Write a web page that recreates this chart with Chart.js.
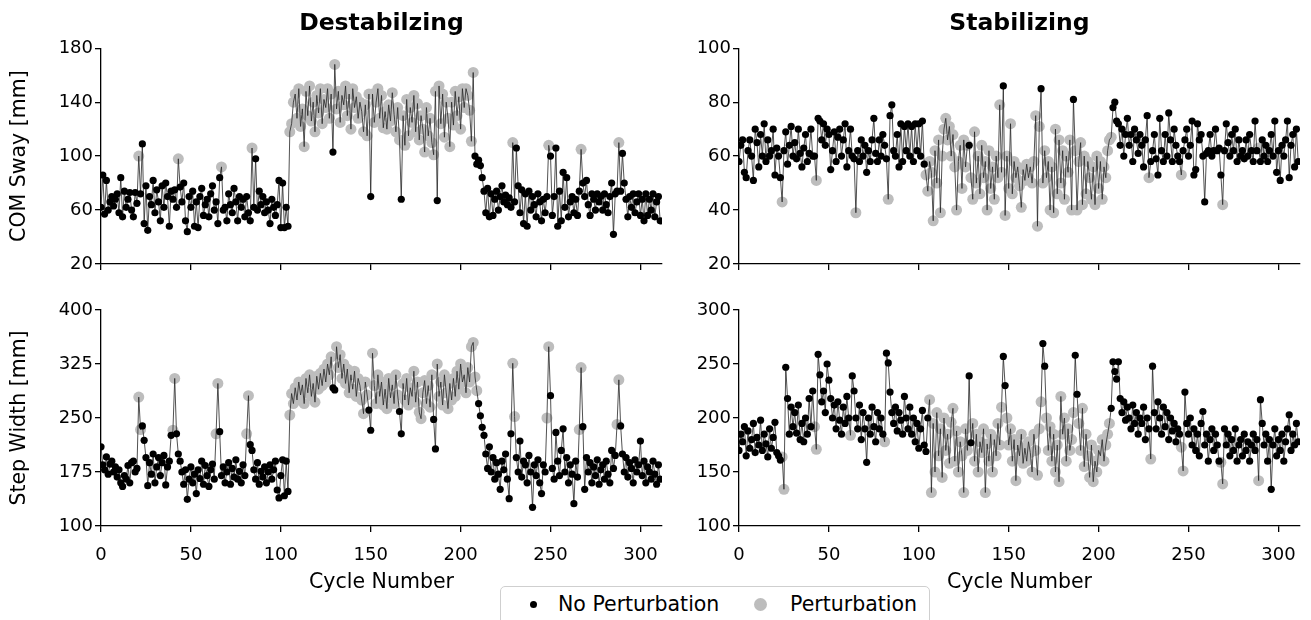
<!DOCTYPE html>
<html>
<head>
<meta charset="utf-8">
<script src="https://cdn.jsdelivr.net/npm/chart.js@4.4.0/dist/chart.umd.min.js"></script>
<style>
  body { margin: 0; background: #fff; width: 1311px; height: 620px; overflow: hidden; position: relative; font-family: 'DejaVu Sans', sans-serif; }
  canvas { position: absolute; }
  #legend { position: absolute; left: 500px; top: 586px; width: 430px; height: 50px; border: 1px solid #cfcfcf; border-radius: 5px; background: #fff; box-sizing: border-box; }
  #legend .dot { position: absolute; border-radius: 50%; }
  #legend .lbl { position: absolute; font-size: 20.5px; color: #000; line-height: 24px; white-space: nowrap; }
</style>
</head>
<body>
<canvas id="comDestab" width="690" height="290" style="left:0;top:0"></canvas>
<canvas id="comStab" width="621" height="290" style="left:690px;top:0"></canvas>
<canvas id="stepDestab" width="690" height="330" style="left:0;top:290px"></canvas>
<canvas id="stepStab" width="621" height="330" style="left:690px;top:290px"></canvas>
<div id="legend">
  <span class="dot" style="left:29px;top:14px;width:7px;height:7px;background:#000"></span>
  <span class="lbl" style="left:57px;top:5px">No Perturbation</span>
  <span class="dot" style="left:253px;top:11px;width:13px;height:13px;background:#bdbdbd"></span>
  <span class="lbl" style="left:289px;top:5px">Perturbation</span>
</div>
<script>
// COM sway, destabilizing condition (cycles 0..311)
const comDestab = [
  62, 86, 57, 82, 60, 66, 70, 63, 68, 72,
  58, 84, 55, 74, 62, 68, 73, 60, 55, 73,
  65, 100, 72, 109, 50, 78, 45, 70, 64, 82,
  58, 75, 66, 52, 78, 62, 80, 70, 48, 74,
  68, 75, 62, 98, 77, 66, 80, 52, 44, 70,
  62, 74, 48, 66, 47, 70, 76, 56, 64, 68,
  55, 72, 78, 60, 66, 50, 84, 92, 60, 62,
  52, 72, 64, 58, 76, 66, 52, 70, 62, 68,
  55, 70, 58, 52, 106, 62, 98, 60, 74, 64,
  70, 58, 66, 60, 50, 68, 62, 56, 64, 82,
  47, 80, 47, 62, 48, 118, 124, 140, 146, 128,
  150, 122, 135, 107, 148, 130, 152, 126, 140, 118,
  145, 132, 150, 124, 142, 136, 150, 128, 146, 103,
  168, 135, 148, 125, 145, 138, 152, 130, 146, 120,
  150, 136, 144, 128, 140, 133, 118, 138, 115, 146,
  70, 146, 125, 140, 150, 128, 145, 121, 133, 120,
  138, 126, 147, 131, 118, 136, 112, 68, 130, 108,
  142, 115, 136, 125, 145, 118, 139, 112, 130, 120,
  103, 136, 115, 128, 110, 101, 148, 67, 152, 124,
  146, 114, 140, 128, 107, 140, 123, 148, 130, 144,
  120, 150, 136, 150, 145, 134, 111, 162, 100, 94,
  97, 93, 84, 74, 58, 76, 55, 72, 56, 68,
  74, 60, 70, 78, 66, 71, 64, 69, 62, 110,
  66, 106, 78, 58, 75, 50, 72, 48, 74, 60,
  70, 64, 55, 72, 66, 52, 68, 58, 70, 108,
  100, 56, 70, 106, 48, 74, 52, 88, 62, 84,
  55, 66, 70, 58, 68, 56, 74, 105, 80, 70,
  82, 64, 56, 72, 68, 60, 72, 66, 70, 60,
  72, 64, 58, 70, 80, 42, 72, 74, 110, 74,
  102, 80, 68, 55, 70, 62, 72, 58, 66, 72,
  56, 68, 52, 72, 56, 68, 60, 72, 55, 66,
  70, 52
];
const comDestabPert = [[21,21],[43,43],[67,67],[84,84],[105,128],[130,149],[151,166],[168,186],[188,207],[229,229],[249,249],[267,267],[288,288]];

// COM sway, stabilizing condition
const comStab = [
  58, 64, 66, 54, 52, 62, 66, 60, 51, 70,
  65, 56, 68, 60, 72, 58, 66, 60, 62, 70,
  53, 63, 60, 52, 43, 62, 69, 57, 64, 71,
  60, 65, 59, 70, 61, 56, 63, 68, 58, 61,
  70, 60, 60, 51, 74, 73, 66, 72, 64, 70,
  68, 55, 62, 69, 58, 67, 70, 60, 66, 72,
  56, 62, 70, 60, 59, 39, 62, 58, 66, 60,
  64, 54, 62, 58, 66, 74, 61, 58, 66, 60,
  68, 64, 59, 44, 75, 79, 62, 60, 68, 56,
  72, 58, 71, 62, 72, 60, 71, 58, 72, 62,
  72, 60, 73, 57, 53, 47, 58, 54, 36, 62,
  50, 66, 39, 60, 70, 74, 66, 71, 60, 68,
  56, 40, 58, 64, 48, 66, 56, 64, 64, 52,
  44, 69, 50, 60, 46, 64, 52, 58, 40, 62,
  48, 56, 44, 60, 52, 79, 54, 86, 38, 60,
  48, 72, 46, 58, 52, 56, 49, 41, 55, 51,
  57, 52, 56, 50, 58, 75, 34, 71, 85, 50,
  62, 52, 58, 40, 56, 39, 70, 46, 66, 50,
  62, 44, 60, 54, 66, 40, 81, 62, 40, 58,
  65, 42, 60, 46, 58, 52, 44, 56, 42, 60,
  48, 58, 44, 56, 52, 62, 66, 67, 78, 80,
  73, 72, 64, 70, 60, 68, 74, 64, 68, 58,
  70, 66, 61, 68, 64, 56, 66, 75, 52, 58,
  62, 68, 59, 53, 74, 62, 58, 68, 60, 76,
  66, 58, 70, 64, 60, 58, 53, 62, 66, 70,
  60, 64, 73, 53, 55, 72, 66, 68, 60, 43,
  61, 62, 68, 60, 62, 70, 62, 63, 53, 42,
  62, 72, 65, 60, 68, 62, 70, 58, 66, 60,
  62, 59, 66, 60, 68, 62, 58, 73, 62, 63,
  58, 66, 60, 64, 58, 62, 68, 60, 73, 54,
  62, 51, 64, 60, 66, 73, 52, 64, 68, 56,
  70, 58
];
const comStabPert = [[24,24],[43,43],[65,65],[83,83],[104,127],[129,146],[148,167],[169,185],[187,207],[228,228],[246,246],[269,269],[289,289]];

// Step width, destabilizing condition
const stepDestab = [
  210, 185, 178, 196, 172, 186, 190, 175, 182, 168,
  178, 160, 155, 170, 165, 184, 160, 188, 190, 175,
  180, 279, 234, 239, 219, 195, 156, 188, 172, 200,
  160, 182, 195, 170, 188, 198, 157, 182, 190, 226,
  233, 305, 228, 200, 190, 175, 158, 178, 137, 165,
  182, 160, 172, 145, 178, 166, 190, 158, 184, 170,
  155, 178, 186, 165, 228, 298, 231, 170, 182, 160,
  175, 188, 158, 180, 168, 192, 165, 176, 160, 185,
  170, 228, 281, 213, 205, 178, 165, 188, 158, 176,
  168, 182, 160, 175, 185, 165, 178, 190, 150, 139,
  170, 192, 142, 190, 148, 254, 284, 270, 292, 275,
  300, 282, 296, 270, 305, 285, 310, 280, 298, 272,
  308, 290, 312, 295, 318, 300, 325, 310, 335, 292,
  289, 349, 320, 338, 305, 325, 298, 318, 285, 310,
  290, 315, 280, 305, 295, 275, 256, 300, 282, 261,
  233, 340, 295, 270, 310, 280, 300, 268, 290, 263,
  305, 278, 296, 270, 310, 282, 259, 228, 298, 275,
  305, 268, 292, 280, 315, 272, 300, 258, 249, 285,
  302, 270, 295, 265, 310, 248, 207, 325, 280, 300,
  268, 310, 285, 263, 298, 275, 305, 280, 315, 290,
  325, 300, 310, 285, 320, 300, 349, 355, 307, 288,
  270, 253, 237, 226, 200, 180, 210, 175, 195, 165,
  188, 172, 151, 190, 178, 200, 165, 138, 228, 326,
  252, 195, 175, 218, 168, 190, 185, 160, 198, 175,
  126, 185, 170, 192, 160, 145, 185, 175, 250, 349,
  281, 180, 165, 230, 190, 170, 205, 235, 175, 195,
  160, 185, 172, 131, 190, 168, 234, 320, 238, 151,
  195, 175, 188, 160, 182, 170, 192, 158, 178, 185,
  165, 190, 172, 160, 205, 180, 198, 241, 303, 239,
  200, 175, 195, 168, 188, 180, 160, 192, 175, 185,
  218, 170, 190, 160, 182, 175, 165, 190, 172, 158,
  185, 165
];
const stepDestabPert = [[21,22],[40,41],[64,65],[81,82],[105,128],[131,148],[151,165],[168,184],[187,209],[229,230],[248,249],[266,267],[287,288]];

// Step width, stabilizing condition
const stepStab = [
  170, 185, 178, 192, 165, 188, 172, 180, 195, 168,
  182, 175, 198, 170, 185, 176, 164, 190, 172, 182,
  196, 168, 165, 161, 164, 134, 247, 218, 185, 210,
  192, 205, 186, 212, 180, 195, 178, 200, 185, 218,
  192, 225, 192, 171, 259, 240, 215, 225, 205, 250,
  235, 218, 200, 212, 190, 215, 198, 185, 210, 195,
  220, 200, 184, 239, 225, 200, 190, 212, 180, 205,
  190, 159, 200, 185, 210, 192, 178, 205, 190, 200,
  185, 178, 260, 251, 224, 205, 195, 210, 188, 205,
  198, 185, 220, 200, 190, 210, 185, 200, 178, 195,
  172, 190, 207, 175, 169, 200, 217, 131, 195, 150,
  205, 165, 190, 145, 200, 170, 185, 158, 196, 209,
  160, 188, 150, 178, 165, 131, 190, 170, 239, 177,
  195, 160, 185, 150, 178, 168, 190, 131, 176, 160,
  185, 150, 180, 165, 195, 175, 210, 257, 230, 200,
  175, 190, 160, 180, 142, 175, 165, 185, 158, 172,
  160, 178, 168, 150, 185, 170, 147, 190, 215, 269,
  248, 200, 170, 192, 160, 185, 150, 175, 141, 220,
  185, 200, 160, 190, 170, 180, 205, 258, 222, 195,
  170, 209, 155, 185, 165, 145, 175, 141, 160, 150,
  170, 165, 180, 160, 175, 185, 195, 209, 252, 243,
  236, 252, 218, 205, 215, 198, 210, 200, 190, 212,
  195, 205, 185, 200, 195, 210, 180, 200, 190, 162,
  248, 205, 190, 215, 200, 185, 210, 192, 205, 180,
  200, 188, 195, 178, 190, 185, 173, 151, 224, 195,
  185, 200, 175, 190, 170, 185, 165, 195, 206, 175,
  185, 160, 180, 190, 170, 185, 175, 160, 159, 139,
  190, 175, 185, 165, 180, 170, 190, 160, 175, 180,
  165, 185, 170, 178, 160, 175, 185, 170, 180, 142,
  217, 195, 175, 185, 160, 180, 134, 175, 190, 165,
  180, 170, 185, 160, 178, 190, 203, 170, 185, 175,
  195, 178
];
const stepStabPert = [[24,25],[42,43],[62,62],[81,81],[106,127],[130,146],[149,168],[171,186],[189,206],[229,229],[246,247],[268,269],[289,289]];

const xTicks = [0, 50, 100, 150, 200, 250, 300];

Chart.defaults.font.family = "'DejaVu Sans', sans-serif";
Chart.defaults.color = '#000';

const tickFont = { size: 18 };
const labelFont = { size: 20.5 };
const axisGrid = { drawOnChartArea: false, drawTicks: true, tickLength: 6, color: '#000', lineWidth: 1.3 };
const axisBorder = { display: true, color: '#000', width: 1.3 };

function flagsFrom(ranges, n) {
  const f = new Array(n).fill(false);
  ranges.forEach(([a, b]) => { for (let i = a; i <= b; i++) f[i] = true; });
  return f;
}

function makePanel(id, values, pertRanges, o) {
  const flags = flagsFrom(pertRanges, values.length);
  const pts = values.map((v, i) => ({ x: i, y: v }));
  const black = pts.filter((p, i) => !flags[i]);
  const grey = pts.filter((p, i) => flags[i]);

  new Chart(document.getElementById(id), {
    type: 'scatter',
    data: {
      datasets: [
        { label: 'Perturbation', data: grey, pointRadius: 5.5, pointBackgroundColor: '#bdbdbd', pointBorderWidth: 0, showLine: false, order: 3 },
        { type: 'line', label: 'trace', data: pts, borderColor: '#262626', borderWidth: 0.8, pointRadius: 0, fill: false, tension: 0, order: 2 },
        { label: 'No Perturbation', data: black, pointRadius: 3.6, pointBackgroundColor: '#000', pointBorderWidth: 0, showLine: false, order: 1 }
      ]
    },
    options: {
      responsive: false,
      animation: false,
      devicePixelRatio: 1,
      layout: { padding: { top: o.padTop, right: o.padRight, left: 0, bottom: 0 } },
      plugins: {
        legend: { display: false },
        tooltip: { enabled: false },
        title: {
          display: !!o.title,
          text: o.title || '',
          fullSize: false,
          font: { size: 23.5, weight: 'bold' },
          color: '#000',
          padding: { top: 10, bottom: 10 }
        }
      },
      scales: {
        x: {
          type: 'linear',
          min: 0,
          max: 312,
          afterFit: (s) => { s.height = o.xHeight; },
          afterBuildTicks: (s) => { s.ticks = xTicks.map(v => ({ value: v })); },
          ticks: {
            font: tickFont,
            color: '#000',
            padding: 13,
            maxRotation: 0,
            callback: o.xLabels ? (v) => String(v) : () => ''
          },
          grid: axisGrid,
          border: axisBorder,
          title: {
            display: !!o.xLabels,
            text: 'Cycle Number',
            font: labelFont,
            color: '#000',
            padding: { top: 0, bottom: 25 }
          }
        },
        y: {
          min: o.yMin,
          max: o.yMax,
          afterFit: (s) => { s.width = o.yWidth; },
          ticks: { stepSize: o.yStep, font: tickFont, color: '#000', padding: 2 },
          grid: axisGrid,
          border: axisBorder,
          title: {
            display: !!o.yTitle,
            text: o.yTitle || '',
            font: labelFont,
            color: '#000',
            padding: { top: 7, bottom: 0 }
          }
        }
      }
    }
  });
}

makePanel('comDestab', comDestab, comDestabPert, {
  title: 'Destabilzing', yTitle: 'COM Sway [mm]', yMin: 20, yMax: 180, yStep: 40,
  padTop: 0, padRight: 28, xHeight: 26, yWidth: 101, xLabels: false
});
makePanel('comStab', comStab, comStabPert, {
  title: 'Stabilizing', yMin: 20, yMax: 100, yStep: 20,
  padTop: 0, padRight: 11, xHeight: 26, yWidth: 49, xLabels: false
});
makePanel('stepDestab', stepDestab, stepDestabPert, {
  yTitle: 'Step Width [mm]', yMin: 100, yMax: 400, yStep: 75,
  padTop: 20, padRight: 28, xHeight: 94, yWidth: 101, xLabels: true
});
makePanel('stepStab', stepStab, stepStabPert, {
  yMin: 100, yMax: 300, yStep: 50,
  padTop: 20, padRight: 11, xHeight: 94, yWidth: 49, xLabels: true
});
</script>
</body>
</html>
